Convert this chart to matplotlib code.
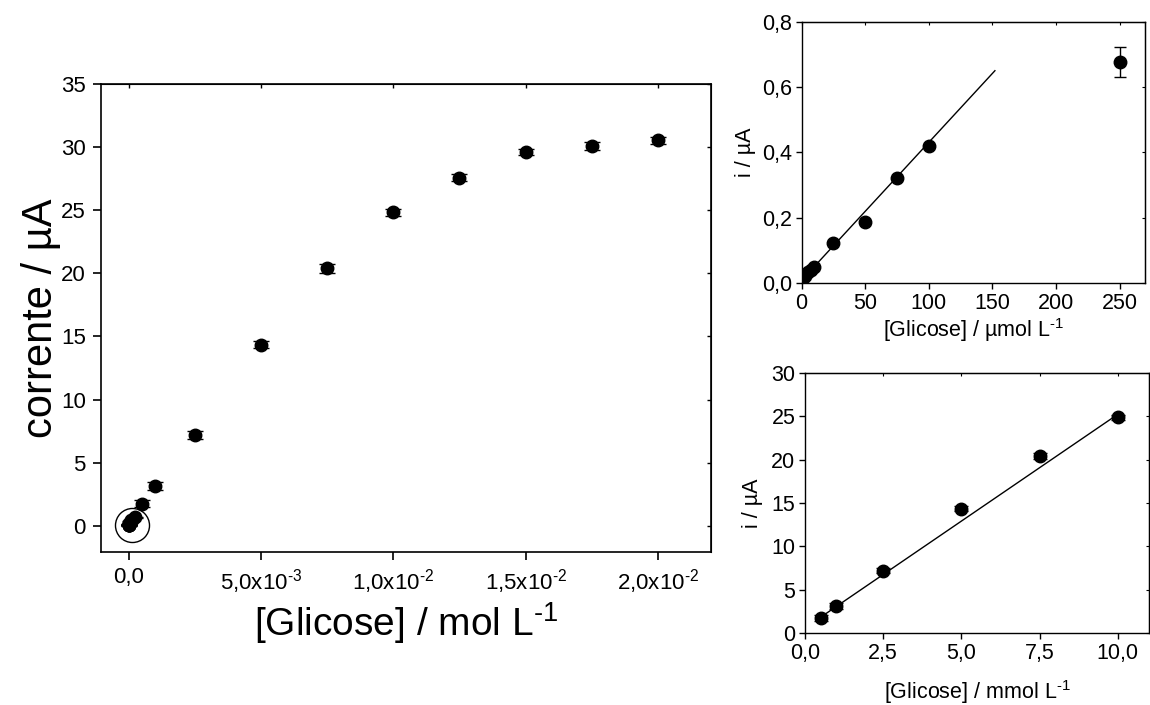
import matplotlib
matplotlib.use("Agg")
import matplotlib.pyplot as plt
from matplotlib.ticker import FixedLocator, FixedFormatter

plt.rcParams['font.family'] = ['Liberation Sans', 'DejaVu Sans']
plt.rcParams['mathtext.fontset'] = 'custom'
plt.rcParams['mathtext.rm'] = 'Liberation Sans'
plt.rcParams['mathtext.it'] = 'Liberation Sans:italic'
plt.rcParams['mathtext.bf'] = 'Liberation Sans:bold'

# ---------------- data ----------------
# main plot: concentration (mol/L) vs current (uA)
conc_mol = [1e-6, 2.5e-6, 5e-6, 7.5e-6, 1e-5, 2.5e-5, 5e-5, 7.5e-5, 1e-4, 2.5e-4,
            5e-4, 1e-3, 2.5e-3, 5e-3, 7.5e-3, 1e-2, 1.25e-2, 1.5e-2, 1.75e-2, 2e-2]
current_uA = [0.015, 0.022, 0.033, 0.041, 0.049, 0.1235, 0.186, 0.3205, 0.42, 0.677,
              1.75, 3.15, 7.2, 14.35, 20.4, 24.85, 27.6, 29.65, 30.1, 30.55]
current_err = [0.01, 0.01, 0.01, 0.01, 0.01, 0.01, 0.01, 0.01, 0.01, 0.045,
               0.3, 0.3, 0.3, 0.3, 0.35, 0.3, 0.25, 0.25, 0.3, 0.3]

# top inset: micromolar range
low_conc_umol = [1, 2.5, 5, 7.5, 10, 25, 50, 75, 100, 250]
low_current = [0.015, 0.022, 0.033, 0.041, 0.049, 0.1235, 0.186, 0.3205, 0.42, 0.677]
low_err = [0.003, 0.003, 0.003, 0.003, 0.003, 0.004, 0.005, 0.005, 0.006, 0.045]
low_fit_x = [0.8, 152]
low_fit_y = [0.0118, 0.65]

# bottom inset: millimolar range
mid_conc_mmol = [0.5, 1, 2.5, 5, 7.5, 10]
mid_current = [1.75, 3.15, 7.2, 14.35, 20.4, 24.85]
mid_err = [0.3, 0.3, 0.3, 0.3, 0.35, 0.3]
mid_fit_x = [0.5, 10]
mid_fit_y = [1.85, 25.2]

# ticks
SUP = '\u2010'  # hyphen for superscripts, as in the original
main_xticks = [0, 5e-3, 1e-2, 1.5e-2, 2e-2]
main_xticklabels = ['0,0', r'5,0x10$^{\mathregular{' + SUP + '3}}$',
                    r'1,0x10$^{\mathregular{' + SUP + '2}}$',
                    r'1,5x10$^{\mathregular{' + SUP + '2}}$',
                    r'2,0x10$^{\mathregular{' + SUP + '2}}$']
main_yticks = [0, 5, 10, 15, 20, 25, 30, 35]
main_yticklabels = ['0', '5', '10', '15', '20', '25', '30', '35']
top_xticks = [0, 50, 100, 150, 200, 250]
top_xticklabels = ['0', '50', '100', '150', '200', '250']
top_yticks = [0, 0.2, 0.4, 0.6, 0.8]
top_yticklabels = ['0,0', '0,2', '0,4', '0,6', '0,8']
bot_xticks = [0, 2.5, 5, 7.5, 10]
bot_xticklabels = ['0,0', '2,5', '5,0', '7,5', '10,0']
bot_yticks = [0, 5, 10, 15, 20, 25, 30]
bot_yticklabels = ['0', '5', '10', '15', '20', '25', '30']

main_xlabel = r'[Glicose] / mol L$^{\mathregular{' + SUP + '1}}$'
main_ylabel = 'corrente / µA'
top_xlabel = r'[Glicose] / µmol L$^{\mathregular{' + SUP + '1}}$'
bot_xlabel = r'[Glicose] / mmol L$^{\mathregular{' + SUP + '1}}$'
inset_ylabel = 'i / µA'

# ---------------- figure ----------------
fig = plt.figure(figsize=(11.5, 7.05), dpi=100)

def mirror_ticks(a, xt, yt, length, width):
    t = a.secondary_xaxis('top'); t.set_xticks(xt)
    t.tick_params(direction='in', length=length, width=width, labeltop=False)
    r = a.secondary_yaxis('right'); r.set_yticks(yt)
    r.tick_params(direction='in', length=length, width=width, labelright=False)

# main axes
ax = fig.add_axes([0.0878, 0.2174, 0.5304, 0.663])
ax.errorbar(conc_mol, current_uA, yerr=current_err, fmt='o', color='black',
            markersize=9, capsize=6, elinewidth=1.0, capthick=1.0, ecolor='black')
ax.plot([0.000125], [0.04], marker='o', markersize=24.5, markerfacecolor='none',
        markeredgecolor='black', markeredgewidth=1.0, linestyle='none')
ax.set_xlim(-0.00104, 0.0220)
ax.set_ylim(-2.07, 35)
ax.xaxis.set_major_locator(FixedLocator(main_xticks))
ax.xaxis.set_major_formatter(FixedFormatter(main_xticklabels))
ax.yaxis.set_major_locator(FixedLocator(main_yticks))
ax.yaxis.set_major_formatter(FixedFormatter(main_yticklabels))
for s in ax.spines.values():
    s.set_linewidth(1.2)
ax.tick_params(axis='both', direction='out', length=6, width=1.2, labelsize=16, pad=5)
ax.set_xlabel(main_xlabel, fontsize=28, labelpad=3)
ax.set_ylabel(main_ylabel, fontsize=30, labelpad=0)
mirror_ticks(ax, main_xticks, main_yticks, 3, 1.0)

# top inset
ax1 = fig.add_axes([0.6971, 0.5986, 0.2985, 0.3706])
ax1.errorbar(low_conc_umol, low_current, yerr=low_err, fmt='o', color='black',
             markersize=9, capsize=4, elinewidth=1.0, capthick=1.0, ecolor='black')
ax1.plot(low_fit_x, low_fit_y, color='black', linewidth=1.0)
ax1.set_xlim(0, 270)
ax1.set_ylim(0, 0.8)
ax1.xaxis.set_major_locator(FixedLocator(top_xticks))
ax1.xaxis.set_major_formatter(FixedFormatter(top_xticklabels))
ax1.yaxis.set_major_locator(FixedLocator(top_yticks))
ax1.yaxis.set_major_formatter(FixedFormatter(top_yticklabels))
ax1.tick_params(axis='both', direction='out', length=4, width=1.0, labelsize=15.5, pad=3)
ax1.set_xlabel(top_xlabel, fontsize=15.5, labelpad=2)
ax1.set_ylabel(inset_ylabel, fontsize=15.5, labelpad=4)
mirror_ticks(ax1, top_xticks, top_yticks, 2.5, 0.8)

# bottom inset
ax2 = fig.add_axes([0.700, 0.1017, 0.2991, 0.3697])
ax2.errorbar(mid_conc_mmol, mid_current, yerr=mid_err, fmt='o', color='black',
             markersize=9, capsize=5, elinewidth=1.0, capthick=1.0, ecolor='black')
ax2.plot(mid_fit_x, mid_fit_y, color='black', linewidth=1.0)
ax2.set_xlim(0, 11)
ax2.set_ylim(0, 30)
ax2.xaxis.set_major_locator(FixedLocator(bot_xticks))
ax2.xaxis.set_major_formatter(FixedFormatter(bot_xticklabels))
ax2.yaxis.set_major_locator(FixedLocator(bot_yticks))
ax2.yaxis.set_major_formatter(FixedFormatter(bot_yticklabels))
ax2.tick_params(axis='both', direction='out', length=4, width=1.0, labelsize=15.5, pad=3)
ax2.set_xlabel(bot_xlabel, fontsize=15.5, labelpad=10)
ax2.set_ylabel(inset_ylabel, fontsize=15.5, labelpad=6)
mirror_ticks(ax2, bot_xticks, bot_yticks, 2.5, 0.8)

for a in (ax1, ax2):
    for s in a.spines.values():
        s.set_linewidth(1.0)

fig.savefig('out.png', dpi=100)
